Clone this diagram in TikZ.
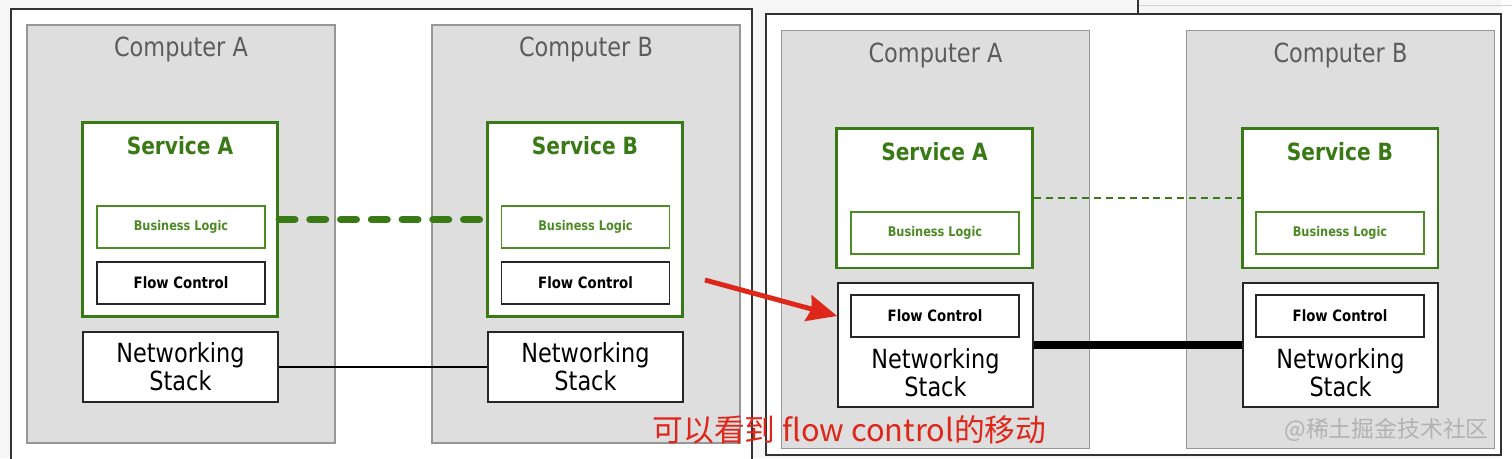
\documentclass[tikz,border=0pt]{standalone}
\usepackage{fontspec}
\setmainfont{DejaVu Sans}[FakeStretch=0.85]
\newfontfamily\cjk{Noto Sans CJK SC}
\usepackage{tikz}
\usetikzlibrary{arrows.meta,positioning}
\definecolor{boxgray}{RGB}{222,222,222}
\definecolor{edgegray}{RGB}{150,150,150}
\definecolor{titlegray}{RGB}{92,92,92}
\definecolor{svcgreen}{RGB}{58,122,22}
\definecolor{logicgreen}{RGB}{78,138,38}
\definecolor{arrowred}{RGB}{222,38,26}

\begin{document}
\begin{tikzpicture}[x=0.02cm, y=-0.02cm,
    computer/.style={draw=edgegray, line width=0.8pt, fill=boxgray, inner sep=0pt, minimum width=6.16cm, minimum height=8.36cm},
    service/.style={draw=svcgreen, line width=1.7pt, fill=white, inner sep=0pt, minimum width=3.92cm},
    logicbox/.style={draw=logicgreen, line width=0.8pt, fill=white, inner sep=0pt, minimum width=3.36cm, minimum height=0.84cm, text=logicgreen, font=\bfseries\fontsize{7.6}{9}\selectfont},
    flowbox/.style={draw=black!85, line width=1.1pt, fill=white, inner sep=0pt, minimum width=3.36cm, minimum height=0.84cm, font=\bfseries\fontsize{8.9}{10}\selectfont},
    netbox/.style={draw=black!85, line width=1pt, fill=white, inner sep=0pt, minimum width=3.9cm, align=center, font=\fontsize{15}{16}\selectfont},
    comptitle/.style={anchor=base, text=titlegray, font=\fontsize{15}{17}\selectfont},
    svctitle/.style={anchor=base, text=svcgreen, font=\bfseries\fontsize{13.5}{15}\selectfont}]
  \useasboundingbox (0,0) rectangle (1512,458);

  % page behind the two screenshots
  \fill[gray!7] (0,0) rectangle (1512,458);
  \fill[white] (1501,0) rectangle (1512,458);
  \draw[gray!35, line width=0.4pt] (1138,5) -- (1512,5);
  \draw[black!80, line width=0.8pt] (1138,0) -- (1138,14);
  \draw[black!80, line width=0.8pt, fill=white] (11,9) rectangle (752,470);
  \draw[black!80, line width=0.8pt, fill=white] (766,14) rectangle (1501,455);

  % before: flow control inside the service
  \node[computer] (compA) at (181,234) {};
  \node[computer] (compB) at (586,234) {};
  \node[comptitle] (compAtitle) at (181,56) {Computer A};
  \node[comptitle] (compBtitle) at (586,56) {Computer B};

  \node[service, minimum height=3.9cm] (svcA) at (180,219.5) {};
  \node[svctitle] (svcAtitle) at (180,154) {Service A};
  \node[logicbox] (logicA) at (181,227) {Business Logic};
  \node[flowbox] (flowA) at (181,283) {Flow Control};
  \node[netbox, minimum height=1.4cm] (netA) at (180.5,367) {Networking\\Stack};

  \node[service, minimum height=3.9cm] (svcB) at (585,219.5) {};
  \node[svctitle] (svcBtitle) at (585,154) {Service B};
  \node[logicbox] (logicB) at (585.5,227) {Business Logic};
  \node[flowbox] (flowB) at (585.5,283) {Flow Control};
  \node[netbox, minimum height=1.4cm] (netB) at (585.5,367) {Networking\\Stack};

  \draw[svcgreen, line width=4.5pt, line cap=round, dash pattern=on 8.6pt off 8.9pt] (svcA.east) -- (svcB.west);
  \draw[black, line width=1.2pt] (netA.east) -- (netB.west);

  % after: flow control moved into the networking stack
  \node[computer] (compA2) at (935.5,239.5) {};
  \node[computer] (compB2) at (1340.5,239.5) {};
  \node[comptitle] (compA2title) at (935.5,62) {Computer A};
  \node[comptitle] (compB2title) at (1340.5,62) {Computer B};

  \node[service, minimum height=2.8cm] (svcA2) at (934.5,198) {};
  \node[svctitle] (svcA2title) at (934.5,160) {Service A};
  \node[logicbox] (logicA2) at (935,233) {Business Logic};
  \node[netbox, minimum height=2.48cm] (netA2) at (935.5,345) {};
  \node[flowbox] (flowA2) at (935,316) {Flow Control};
  \node[align=center, font=\fontsize{15}{16}\selectfont] (netA2text) at (935.5,373) {Networking\\Stack};

  \node[service, minimum height=2.8cm] (svcB2) at (1340,198) {};
  \node[svctitle] (svcB2title) at (1340,160) {Service B};
  \node[logicbox] (logicB2) at (1340,233) {Business Logic};
  \node[netbox, minimum height=2.48cm] (netB2) at (1340.5,345) {};
  \node[flowbox] (flowB2) at (1340,316) {Flow Control};
  \node[align=center, font=\fontsize{15}{16}\selectfont] (netB2text) at (1340.5,373) {Networking\\Stack};

  \draw[svcgreen, line width=1.2pt, dash pattern=on 4pt off 2.8pt] (svcA2.east) -- (svcB2.west);
  \draw[black, line width=4pt] (netA2.east) -- (netB2.west);

  % annotation
  \coordinate (arrowtail) at (705,280);
  \draw[arrowred, line width=2.8pt, -{Stealth[length=17pt, width=15pt, inset=2pt]}] (arrowtail) -- (netA2.west |- flowA2.center);
  \node[text=arrowred, font=\cjk\fontsize{17.5}{20}\selectfont] (note) at (849.5,430) {可以看到 flow control的移动};
  \node[anchor=east, text=gray!60, font=\cjk\fontsize{13}{15}\selectfont] (mark) at (1495,430) {@稀土掘金技术社区};
\end{tikzpicture}
\end{document}
